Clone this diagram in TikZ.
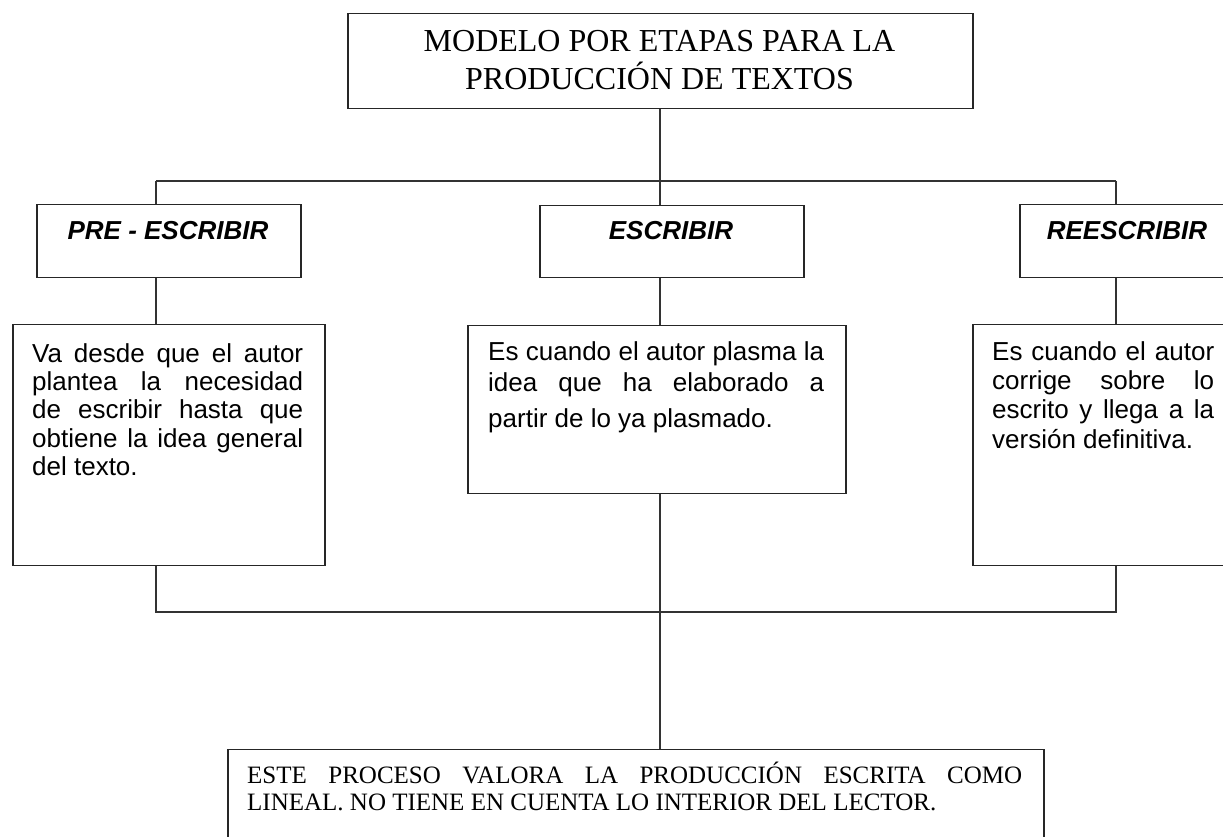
\documentclass[tikz,border=0pt]{standalone}
\usepackage{fontspec}
\setmainfont{Liberation Serif}
\newfontfamily\arialf{Liberation Sans}
\newcommand{\loosepar}{\tolerance=9999\relax\hbadness=10000\relax\hyphenpenalty=10000\relax\exhyphenpenalty=10000\relax}
\begin{document}
\begin{tikzpicture}[x=1pt,y=1pt,
  box/.style={draw=black!85, line width=1.5pt, rectangle, inner sep=0pt, anchor=north west},
  conn/.style={draw=black!80, line width=1.5pt},
  head/.style={font=\arialf\bfseries\itshape\fontsize{26}{30}\selectfont, inner sep=0pt, anchor=base},
  desc/.style={align=justify, inner sep=0pt, anchor=north west},
]
\useasboundingbox (0,0) rectangle (1223,837);
\clip (0,0) rectangle (1223,837);

% boxes
\node[box, minimum width=625pt, minimum height=95pt] (top) at (347,824) {};
\node[box, minimum width=264pt, minimum height=73pt] (pre) at (36,633) {};
\node[box, minimum width=264pt, minimum height=72pt] (esc) at (539,632) {};
\node[box, minimum width=216pt, minimum height=73pt] (ree) at (1019,633) {};
\node[box, minimum width=312pt, minimum height=241pt] (dl) at (12,513) {};
\node[box, minimum width=378pt, minimum height=168pt] (dm) at (467,512) {};
\node[box, minimum width=264pt, minimum height=241pt] (dr) at (972,513) {};
\node[box, minimum width=816pt, minimum height=120pt] (bot) at (227,88) {};

% texts
\node[font=\fontsize{32}{38}\selectfont, align=center, inner sep=0pt] (titletext) at (659.5,776.5)
  {MODELO POR ETAPAS PARA LA\\PRODUCCIÓN DE TEXTOS};
\node[head] (pret) at (168,597) {PRE - ESCRIBIR};
\node[head] (esct) at (671,597) {ESCRIBIR};
\node[head] (reet) at (1127,597) {REESCRIBIR};

\node[desc, text width=271pt, font=\arialf\fontsize{26}{28.3}\selectfont] (dlt) at (32,497)
  {\loosepar\rule{0pt}{22pt}Va desde que el autor\linebreak plantea la necesidad\linebreak de escribir hasta que\linebreak obtiene la idea general\linebreak del texto.};
\node[desc, text width=336pt, font=\arialf\fontsize{26}{31}\selectfont] (dmt) at (488,498.3)
  {\loosepar\rule{0pt}{22pt}Es cuando el autor plasma la\linebreak idea que ha elaborado a\vadjust{\vskip5pt}\linebreak partir de lo ya plasmado.};
\node[desc, text width=222pt, font=\arialf\fontsize{26}{29.3}\selectfont] (drt) at (992,499)
  {\loosepar\rule{0pt}{22pt}Es cuando el autor\linebreak corrige sobre lo\linebreak escrito y llega a la\linebreak versión definitiva.};
\node[desc, text width=775pt, font=\fontsize{25}{27.5}\selectfont] (bott) at (247,78)
  {\loosepar\rule{0pt}{24pt}ESTE PROCESO VALORA LA PRODUCCIÓN ESCRITA COMO\linebreak LINEAL. NO TIENE EN CUENTA LO INTERIOR DEL LECTOR.};

% connectors
\coordinate (cx) at (660,0);
\coordinate (tl) at (156,656);
\coordinate (tr) at (1116,656);
\coordinate (bl) at (156,225);
\coordinate (br) at (1116,225);

\draw[conn] (top.south -| cx) -- (esc.north -| cx);
\draw[conn] (tl) -- (tr);
\draw[conn] (tl) -- (pre.north -| tl);
\draw[conn] (tr) -- (ree.north -| tr);
\draw[conn] (pre.south -| tl) -- (dl.north -| tl);
\draw[conn] (esc.south -| cx) -- (dm.north -| cx);
\draw[conn] (ree.south -| tr) -- (dr.north -| tr);
\draw[conn] (dl.south -| bl) -- (bl) -- (br) -- (dr.south -| br);
\draw[conn] (dm.south -| cx) -- (bot.north -| cx);
\end{tikzpicture}
\end{document}
